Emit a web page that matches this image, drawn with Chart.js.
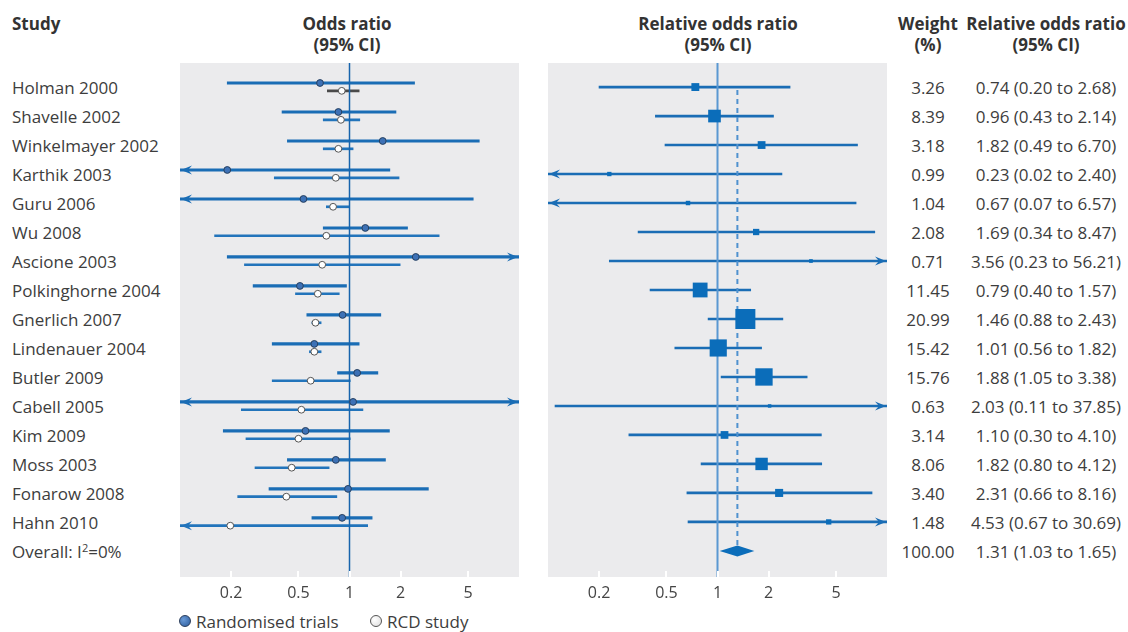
<!DOCTYPE html>
<html>
<head>
<meta charset="utf-8">
<script src="https://cdn.jsdelivr.net/npm/chart.js@4.4.0/dist/chart.umd.min.js"></script>
<style>
  body { margin: 0; background: #fff; width: 1128px; height: 632px; overflow: hidden; position: relative;
         font-family: "Open Sans", sans-serif; font-size: 17px; color: #3d3d3d; }
  .t { position: absolute; white-space: nowrap; line-height: 21px; }
  .t sup { font-size: 11px; line-height: 0; vertical-align: 6px; }
  .b { font-weight: bold; color: #333; }
  .c { transform: translateX(-50%); text-align: center; }
  .panel { position: absolute; }
  .dot { display: inline-block; width: 10px; height: 10px; border-radius: 50%; vertical-align: middle; margin: -3px 5px 0 0; }
</style>
</head>
<body>
<div class="panel" style="left:180px;top:63px;width:339px;height:540px"><canvas id="orChart"></canvas></div>
<div class="panel" style="left:548px;top:63px;width:339px;height:540px"><canvas id="rorChart"></canvas></div>
<div id="labels"></div>

<script>
const studies = ["Holman 2000", "Shavelle 2002", "Winkelmayer 2002", "Karthik 2003", "Guru 2006", "Wu 2008",
  "Ascione 2003", "Polkinghorne 2004", "Gnerlich 2007", "Lindenauer 2004", "Butler 2009", "Cabell 2005",
  "Kim 2009", "Moss 2003", "Fonarow 2008", "Hahn 2010"];

// randomised trials, odds ratio and 95% CI
const rctOR = [0.67, 0.86, 1.57, 0.19, 0.535, 1.24, 2.46, 0.51, 0.91, 0.62, 1.11, 1.05, 0.55, 0.83, 0.98, 0.905];
const rctLo = [0.19, 0.40, 0.43, 0.02, 0.05, 0.70, 0.19, 0.27, 0.56, 0.35, 0.85, 0.05, 0.18, 0.43, 0.335, 0.60];
const rctHi = [2.42, 1.88, 5.83, 1.73, 5.37, 2.20, 30.0, 0.96, 1.53, 1.14, 1.47, 20.0, 1.72, 1.63, 2.92, 1.36];

// RCD studies
const rcdOR = [0.90, 0.89, 0.86, 0.83, 0.80, 0.73, 0.69, 0.65, 0.63, 0.62, 0.59, 0.52, 0.50, 0.456, 0.424, 0.198];
const rcdLo = [0.74, 0.70, 0.70, 0.36, 0.73, 0.16, 0.24, 0.48, 0.60, 0.58, 0.35, 0.23, 0.245, 0.277, 0.219, 0.03];
const rcdHi = [1.14, 1.15, 1.05, 1.96, 1.00, 3.38, 1.99, 0.87, 0.68, 0.68, 1.01, 1.20, 1.01, 0.758, 0.842, 1.28];

// relative odds ratio (RCT vs RCD), CI and weight
const relOR = [0.74, 0.96, 1.82, 0.23, 0.67, 1.69, 3.56, 0.79, 1.46, 1.01, 1.88, 2.03, 1.10, 1.82, 2.31, 4.53];
const relLo = [0.20, 0.43, 0.49, 0.02, 0.07, 0.34, 0.23, 0.40, 0.88, 0.56, 1.05, 0.11, 0.30, 0.80, 0.66, 0.67];
const relHi = [2.68, 2.14, 6.70, 2.40, 6.57, 8.47, 56.21, 1.57, 2.43, 1.82, 3.38, 37.85, 4.10, 4.12, 8.16, 30.69];
const weights = [3.26, 8.39, 3.18, 0.99, 1.04, 2.08, 0.71, 11.45, 20.99, 15.42, 15.76, 0.63, 3.14, 8.06, 3.40, 1.48];

const overallLabel = "Overall: I<sup>2</sup>=0%";
const overallWeight = 100;
const overallOR = 1.31, overallLo = 1.03, overallHi = 1.65;

const tickValues = [0.2, 0.5, 1, 2, 5];

const rows = studies.map((s, i) => i);
const overallRow = studies.length;
const yMin = -0.83, yMax = 16.9;
const blue = "#1a6db5";

// ---- text columns ----
const labels = document.getElementById("labels");
function addText(html, x, cy, cls) {
  const d = document.createElement("div");
  d.className = "t " + (cls || "");
  d.innerHTML = html;
  d.style.left = x + "px";
  d.style.top = (cy - 10.5) + "px";
  labels.appendChild(d);
}
const rowY = i => 87 + 29 * i;

addText("Study", 12, 23, "b");
addText("Odds ratio", 347, 23, "b c");
addText("(95% CI)", 347, 44.5, "b c");
addText("Relative odds ratio", 718, 23, "b c");
addText("(95% CI)", 718, 44.5, "b c");
addText("Weight", 928, 23, "b c");
addText("(%)", 928, 44.5, "b c");
addText("Relative odds ratio", 1046, 23, "b c");
addText("(95% CI)", 1046, 44.5, "b c");

const fmt = v => v.toFixed(2);
studies.forEach((s, i) => {
  addText(s, 12, rowY(i));
  addText(fmt(weights[i]), 928, rowY(i), "c");
  addText(fmt(relOR[i]) + " (" + fmt(relLo[i]) + " to " + fmt(relHi[i]) + ")", 1046, rowY(i), "c");
});
addText(overallLabel, 12, rowY(overallRow));
addText(fmt(overallWeight), 928, rowY(overallRow), "c");
addText(fmt(overallOR) + " (" + fmt(overallLo) + " to " + fmt(overallHi) + ")", 1046, rowY(overallRow), "c");

addText('<span class="dot" style="background:radial-gradient(circle at 35% 35%,#6a9ad6,#2b5b9c);border:1px solid #2a3d5c"></span>Randomised trials', 179, 621);
addText('<span class="dot" style="background:radial-gradient(circle at 35% 35%,#fff,#ddd);border:1px solid #555"></span>RCD study', 370, 621);

// ---- chart plumbing ----
const panelBg = {
  id: "panelBg",
  beforeDraw(chart) {
    const a = chart.chartArea, ctx = chart.ctx;
    ctx.save();
    ctx.fillStyle = "#ebebed";
    ctx.fillRect(a.left, a.top, a.right - a.left, a.bottom - a.top);
    ctx.restore();
  }
};

function arrowHead(ctx, xTip, y, dir, color) {
  ctx.fillStyle = color;
  ctx.beginPath();
  ctx.moveTo(xTip, y);
  ctx.lineTo(xTip - dir * 11, y - 4.5);
  ctx.lineTo(xTip - dir * 7, y);
  ctx.lineTo(xTip - dir * 11, y + 4.5);
  ctx.closePath();
  ctx.fill();
}

const decorations = {
  id: "decorations",
  afterDatasetsDraw(chart, args, opts) {
    const ctx = chart.ctx, a = chart.chartArea;
    const xs = chart.scales.x, ys = chart.scales.y;
    ctx.save();
    // white tick marks inside the panel
    ctx.strokeStyle = "#fff";
    ctx.lineWidth = 2;
    tickValues.forEach(v => {
      const px = Math.round(xs.getPixelForValue(v));
      ctx.beginPath();
      ctx.moveTo(px, a.bottom);
      ctx.lineTo(px, a.bottom - 6);
      ctx.stroke();
    });
    // arrows where a CI runs past the axis
    chart.data.datasets.forEach(ds => {
      if (!ds.arrows) return;
      ds.data.forEach((pt, i) => {
        const col = Array.isArray(ds.backgroundColor) ? ds.backgroundColor[i] : ds.backgroundColor;
        const py = ys.getPixelForValue(pt.y);
        if (pt.x[0] < xs.min) arrowHead(ctx, a.left + 1, py, -1, col);
        if (pt.x[1] > xs.max) arrowHead(ctx, a.right - 1, py, 1, col);
      });
    });
    // pooled estimate diamond
    if (opts.diamond) {
      const d = opts.diamond;
      const py = ys.getPixelForValue(d.y);
      ctx.fillStyle = d.color;
      ctx.beginPath();
      ctx.moveTo(xs.getPixelForValue(d.lo), py);
      ctx.lineTo(xs.getPixelForValue(d.est), py - 5.5);
      ctx.lineTo(xs.getPixelForValue(d.hi), py);
      ctx.lineTo(xs.getPixelForValue(d.est), py + 5.5);
      ctx.closePath();
      ctx.fill();
    }
    ctx.restore();
  }
};

function scalesFor() {
  return {
    x: {
      type: "logarithmic", min: 0.1, max: 10,
      grid: { display: false, drawTicks: false },
      border: { display: false },
      afterBuildTicks: s => { s.ticks = tickValues.map(v => ({ value: v })); },
      // keep the plot area at a fixed 514px: axis strip is exactly 26px
      afterFit: s => { s.paddingLeft = 0; s.paddingRight = 0; s.height = 26; },
      ticks: {
        callback: v => String(v), autoSkip: false, maxRotation: 0, padding: 6,
        color: "#444", font: { family: "Open Sans", size: 16, lineHeight: 1.25 }
      }
    },
    y: { type: "linear", display: false, reverse: true, min: yMin, max: yMax, offset: false }
  };
}

const baseOptions = extra => ({
  animation: false,
  responsive: true,
  maintainAspectRatio: false,
  layout: { padding: 0, autoPadding: false },
  events: [],
  scales: scalesFor(),
  plugins: Object.assign({ legend: { display: false }, tooltip: { enabled: false } }, extra)
});

// ---- left panel: odds ratios ----
new Chart(document.getElementById("orChart"), {
  type: "scatter",
  data: {
    datasets: [
      {
        label: "Randomised trials",
        data: rows.map(i => ({ x: rctOR[i], y: i - 0.14 })),
        pointRadius: 3.4, pointBorderWidth: 1,
        pointBackgroundColor: "#3d71b6", pointBorderColor: "#27405f",
        order: 0
      },
      {
        label: "RCD study",
        data: rows.map(i => ({ x: rcdOR[i], y: i + 0.13 })),
        pointRadius: 3.4, pointBorderWidth: 1,
        pointBackgroundColor: "#ffffff", pointBorderColor: "#555555",
        order: 0
      },
      {
        type: "line",
        data: [{ x: 1, y: yMin }, { x: 1, y: yMax }],
        borderColor: "#1764ad", borderWidth: 1.5, pointRadius: 0,
        order: 1
      },
      {
        type: "bar", indexAxis: "y", arrows: true, grouped: false, clip: 0,
        data: rows.map(i => ({ y: i - 0.14, x: [rctLo[i], rctHi[i]] })),
        backgroundColor: blue, barThickness: 2.5,
        order: 2
      },
      {
        type: "bar", indexAxis: "y", arrows: true, grouped: false, clip: 0,
        data: rows.map(i => ({ y: i + 0.13, x: [rcdLo[i], rcdHi[i]] })),
        backgroundColor: rows.map(i => i === 0 ? "#4a4a4a" : "#2274bb"), barThickness: 2,
        order: 2
      }
    ]
  },
  options: baseOptions({}),
  plugins: [panelBg, decorations]
});

// ---- right panel: relative odds ratios ----
new Chart(document.getElementById("rorChart"), {
  type: "scatter",
  data: {
    datasets: [
      {
        label: "Relative odds ratio",
        data: rows.map(i => ({ x: relOR[i], y: i })),
        pointStyle: "rect",
        pointRadius: c => 4.37 * Math.sqrt(weights[c.dataIndex]) / Math.SQRT2,
        pointBorderWidth: 0,
        pointBackgroundColor: "#0b6dba",
        order: 0
      },
      {
        type: "line",
        data: [{ x: 1, y: yMin }, { x: 1, y: yMax }],
        borderColor: "#5a98d2", borderWidth: 2, pointRadius: 0,
        order: 1
      },
      {
        type: "line",
        data: [{ x: overallOR, y: 0.1 }, { x: overallOR, y: overallRow - 0.2 }],
        borderColor: "#4f91cf", borderWidth: 2, borderDash: [5, 4], pointRadius: 0,
        order: 1
      },
      {
        type: "bar", indexAxis: "y", arrows: true, grouped: false, clip: 0,
        data: rows.map(i => ({ y: i, x: [relLo[i], relHi[i]] })),
        backgroundColor: blue, barThickness: 2,
        order: 2
      }
    ]
  },
  options: baseOptions({
    decorations: { diamond: { y: overallRow, est: overallOR, lo: overallLo, hi: overallHi, color: "#0b6dba" } }
  }),
  plugins: [panelBg, decorations]
});
</script>
</body>
</html>
